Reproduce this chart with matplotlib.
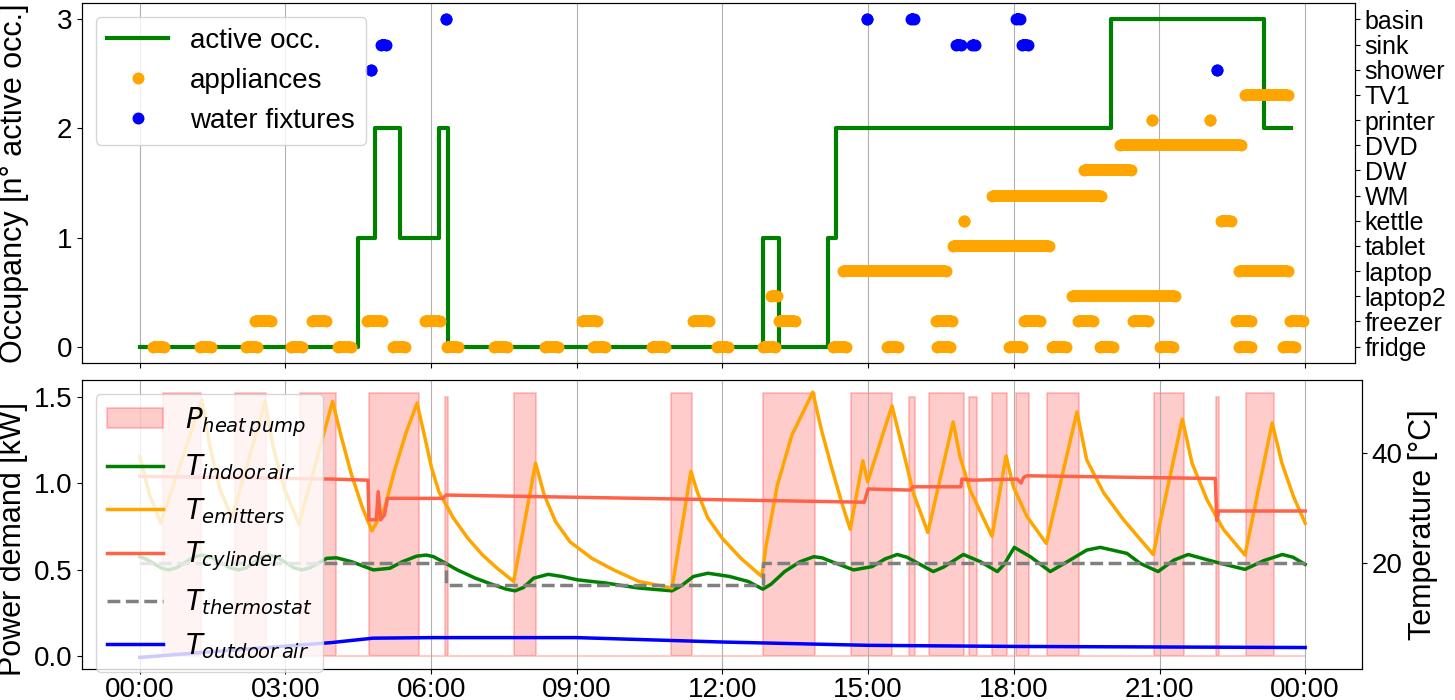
import matplotlib
matplotlib.use('Agg')
import matplotlib.pyplot as plt
from matplotlib.lines import Line2D

plt.rcParams['font.family'] = ['Liberation Sans', 'DejaVu Sans']
plt.rcParams['mathtext.fontset'] = 'dejavusans'

# ---- top panel data (hours of the day) ----
occ_t = [0.0, 4.49, 4.84, 5.36, 6.16, 6.34, 12.84, 13.17, 14.17, 14.34, 20.0, 23.16, 23.71]
occ_n = [0, 1, 2, 1, 2, 0, 1, 0, 1, 2, 3, 2, 2]

device_names = ['fridge', 'freezer', 'laptop2', 'laptop', 'tablet', 'kettle', 'WM', 'DW',
                'DVD', 'printer', 'TV1', 'shower', 'sink', 'basin']

fridge = [(0.27, 0.49), (1.24, 1.46), (2.18, 2.41), (3.11, 3.34), (4.08, 4.35), (5.21, 5.46),
          (6.32, 6.55), (7.29, 7.56), (8.34, 8.61), (9.33, 9.58), (10.55, 10.82), (11.89, 12.11),
          (12.83, 13.08), (14.28, 14.54), (15.39, 15.62), (16.42, 16.69), (17.90, 18.17),
          (18.79, 19.08), (19.78, 20.05), (21.01, 21.28), (22.64, 22.89), (23.55, 23.79)]
freezer = [(2.37, 2.70), (3.54, 3.83), (4.68, 4.99), (5.87, 6.18), (9.11, 9.42), (11.39, 11.72),
           (13.17, 13.49), (16.40, 16.73), (18.21, 18.54), (19.32, 19.63), (20.46, 20.77),
           (22.58, 22.89), (23.69, 23.96)]
laptop2 = [(13.0, 13.12), (19.20, 21.32)]
laptop = [(14.48, 16.60), (22.64, 23.65)]
tablet = [(16.75, 18.73)]
kettle = [(16.98, 16.98), (22.28, 22.48)]
wm = [(17.55, 19.80)]
dw = [(19.45, 20.42)]
dvd = [(20.19, 22.68)]
printer = [(20.85, 20.85), (22.04, 22.04)]
tv1 = [(22.77, 23.65)]
shower = [(4.76, 4.76), (22.19, 22.19)]
sink = [(4.96, 5.07), (16.81, 16.91), (17.15, 17.20), (18.17, 18.29)]
basin = [(6.30, 6.30), (14.97, 14.97), (15.88, 15.95), (18.05, 18.13)]

appliances = [fridge, freezer, laptop2, laptop, tablet, kettle, wm, dw, dvd, printer, tv1]
fixtures = [shower, sink, basin]

# ---- bottom panel data ----
hp_on = [(0.47, 1.26), (1.96, 2.60), (3.30, 4.04), (4.72, 5.75), (6.28, 6.34), (7.71, 8.16),
         (10.94, 11.37), (12.83, 13.90), (14.65, 15.49), (15.84, 15.97), (16.25, 16.98),
         (17.08, 17.24), (17.55, 17.86), (18.05, 18.31), (18.69, 19.34), (20.89, 21.51),
         (22.17, 22.23), (22.79, 23.36)]
hp_kw = [1.52, 1.52, 1.52, 1.52, 1.50, 1.52, 1.52, 1.52, 1.52, 1.50, 1.52, 1.50, 1.52, 1.52,
         1.52, 1.52, 1.50, 1.52]

t_emit = [0.0, 0.2, 0.43, 1.28, 1.45, 1.65, 1.90, 2.58, 2.75, 2.98, 3.28, 3.97, 4.14, 4.36,
          4.59, 4.78, 5.04, 5.26, 5.49, 5.71, 5.86, 6.01, 6.16, 6.46, 6.76, 7.06, 7.36, 7.70,
          8.15, 8.33, 8.56, 8.86, 9.31, 9.76, 10.28, 10.96, 11.35, 11.48, 11.70, 12.00, 12.38,
          12.81, 12.90, 13.13, 13.43, 13.86, 14.03, 14.25, 14.47, 14.63, 14.89, 14.99, 15.49,
          15.70, 15.93, 16.23, 16.75, 16.89, 17.10, 17.55, 17.84, 17.99, 18.27, 18.67, 19.30,
          19.50, 19.85, 20.26, 20.87, 21.47, 21.67, 21.98, 22.32, 22.76, 23.32, 23.52, 23.76,
          24.0]
v_emit = [39.4, 32.5, 27.3, 49.7, 41.0, 33.5, 28.2, 49.4, 41.0, 33.5, 27.1, 49.4, 43.3, 36.1,
          30.0, 25.9, 30.0, 37.3, 43.9, 49.1, 43.3, 37.3, 33.0, 28.2, 24.5, 21.5, 19.1, 16.7,
          38.2, 32.4, 27.6, 23.9, 20.9, 18.8, 16.7, 15.5, 36.7, 33.0, 28.2, 24.5, 20.9,
          17.6, 23.3, 34.2, 43.3, 51.1, 44.5, 37.3, 30.6, 26.2, 38.6, 34.8, 48.6,
          41.2, 32.8, 25.6, 45.7, 39.4, 33.3, 24.9, 39.5, 33.9, 28.5, 23.6, 47.5,
          38.8, 32.8, 27.9, 21.6, 46.2, 38.2, 31.5, 26.1, 21.5, 45.5, 38.2, 32.1,
          27.3]

t_indoor = [0.0, 0.15, 0.45, 0.59, 0.76, 1.10, 1.28, 1.47, 1.85, 2.04, 2.20, 2.50, 2.66, 2.83,
            3.17, 3.34, 3.51, 3.85, 4.05, 4.36, 4.81, 5.15, 5.41, 5.70, 5.90, 6.05, 6.24, 6.54,
            6.91, 7.28, 7.55, 7.73, 7.90, 8.11, 8.41, 8.70, 9.01, 9.61, 10.28, 10.96, 11.15,
            11.40, 11.70, 12.15, 12.53, 12.83, 13.00, 13.28, 13.60, 13.88, 14.05, 14.25, 14.70,
            15.08, 15.35, 15.60, 15.80, 16.34, 16.55, 16.96, 17.31, 17.66, 17.80, 18.01, 18.34,
            18.75, 19.16, 19.50, 19.78, 20.33, 20.60, 20.97, 21.30, 21.59, 22.25, 22.76, 23.15,
            23.53, 23.75, 24.0]
v_indoor = [21.2, 20.7, 19.1, 18.8, 19.2, 21.1, 21.5, 21.1, 19.2, 18.8, 19.2, 21.1, 21.5, 21.1,
            19.2, 18.8, 19.2, 20.9, 21.0, 20.3, 18.8, 19.1, 20.3, 21.3, 21.5, 21.2, 20.3, 18.8,
            17.3, 16.1, 15.3, 15.0, 15.6, 17.3, 18.0, 17.6, 17.0, 16.4, 15.5, 15.0, 15.9,
            17.6, 18.2, 17.6, 16.7, 15.3, 16.2, 18.5, 20.3, 21.2, 21.0, 20.3, 18.8,
            19.4, 20.8, 21.6, 21.1, 18.5, 19.3, 21.6, 20.3, 18.5, 19.8, 22.9, 21.2,
            18.5, 20.6, 22.4, 22.9, 21.8, 20.0, 18.5, 20.6, 21.6, 20.0, 18.9, 20.5,
            21.6, 21.1, 19.8]

t_cyl = [0.0, 3.98, 4.70, 4.72, 4.87, 4.91, 4.96, 5.04, 5.10, 6.24, 6.31, 14.92, 15.0, 15.86,
         15.93, 16.91, 16.93, 17.16, 18.07, 18.15, 18.20, 18.27, 22.15, 22.18, 22.22, 24.0]
v_cyl = [35.8, 35.3, 35.1, 27.9, 27.9, 33.0, 27.9, 28.8, 31.8, 31.8, 32.4, 31.1, 33.5, 33.3,
         33.9, 33.9, 35.3, 35.1, 35.3, 34.6, 35.6, 35.9, 35.4, 27.8, 29.5, 29.5]

t_thermo = [0.0, 6.31, 12.83, 24.0]
v_thermo = [20.0, 16.0, 20.0, 20.0]

t_out = [0.0, 1.0, 2.0, 3.0, 3.95, 4.8, 6.0, 7.0, 9.0, 12.0, 15.0, 18.0, 21.0, 24.0]
v_out = [2.9, 3.6, 4.3, 4.95, 5.6, 6.4, 6.5, 6.5, 6.5, 5.7, 5.1, 4.9, 4.8, 4.7]

hour_ticks = [0, 3, 6, 9, 12, 15, 18, 21, 24]
hour_labels = ['00:00', '03:00', '06:00', '09:00', '12:00', '15:00', '18:00', '21:00', '00:00']

W, H = 1455, 700
fig = plt.figure(figsize=(W / 100, H / 100), dpi=100)

# ---------------- top panel ----------------
ax1 = fig.add_axes([82 / W, 1 - 363 / H, 1273 / W, 360 / H])
ax1.plot(occ_t, occ_n, drawstyle='steps-post', color='green', lw=3, label='active occ.')
ax1.set_xlim(-1.19, 25.03)
ax1.set_ylim(-0.15, 3.15)
ax1.set_yticks([0, 1, 2, 3])
ax1.set_xticks(hour_ticks)
ax1.tick_params(labelbottom=False, labelsize=20)
ax1.grid(axis='x', color='#b0b0b0', lw=0.8)
ax1.set_ylabel('Occupancy [n° active occ.]', fontsize=22)
ax1.yaxis.set_label_coords(-0.042, 0.5)

ax1b = ax1.twinx()
dot = 8.6
for row, intervals in enumerate(appliances):
    for s, e in intervals:
        ax1b.plot([s, e], [row, row], color='orange', lw=dot, solid_capstyle='butt',
                  marker='o', ms=dot, mew=0)
for k, intervals in enumerate(fixtures):
    row = len(appliances) + k
    for s, e in intervals:
        ax1b.plot([s, e], [row, row], color='blue', lw=dot, solid_capstyle='butt',
                  marker='o', ms=dot, mew=0)
ax1b.set_ylim(-0.65, 13.65)
ax1b.set_yticks(range(len(device_names)))
ax1b.set_yticklabels(device_names, fontsize=18)

handles = [Line2D([], [], color='green', lw=3),
           Line2D([], [], color='orange', marker='o', ms=dot, ls='none', mew=0),
           Line2D([], [], color='blue', marker='o', ms=dot, ls='none', mew=0)]
ax1b.legend(handles, ['active occ.', 'appliances', 'water fixtures'], loc='upper left',
            fontsize=20, handlelength=2.2)

# ---------------- bottom panel ----------------
ax2 = fig.add_axes([82 / W, 1 - 669 / H, 1280 / W, 289 / H])
hp_t = [0.0]
hp_p = [0.0]
for (s, e), kw in zip(hp_on, hp_kw):
    hp_t += [s, e]
    hp_p += [kw, 0.0]
hp_t.append(24.0)
hp_p.append(0.0)
hp = ax2.fill_between(hp_t, hp_p, step='post', color='red', alpha=0.2, lw=1.5,
                      label=r'$P_{heat\,pump}$')
ax2.set_xlim(-1.19, 25.17)
ax2.set_ylim(-0.075, 1.598)
ax2.set_yticks([0.0, 0.5, 1.0, 1.5])
ax2.set_xticks(hour_ticks)
ax2.set_xticklabels(hour_labels)
ax2.tick_params(labelsize=20)
ax2.tick_params(axis='x', pad=2)
ax2.grid(axis='x', color='#b0b0b0', lw=0.8)
ax2.set_ylabel('Power demand [kW]', fontsize=22)
ax2.yaxis.set_label_coords(-0.042, 0.45)

ax2b = ax2.twinx()
l1, = ax2b.plot(t_indoor, v_indoor, color='green', lw=2.5, label=r'$T_{indoor\,air}$')
l2, = ax2b.plot(t_emit, v_emit, color='orange', lw=2.5, label=r'$T_{emitters}$')
l3, = ax2b.plot(t_cyl, v_cyl, color='tomato', lw=2.5, label=r'$T_{cylinder}$')
l4, = ax2b.plot(t_thermo, v_thermo, color='gray', lw=2.5, ls='--', drawstyle='steps-post',
                label=r'$T_{thermostat}$')
l5, = ax2b.plot(t_out, v_out, color='blue', lw=2.5, label=r'$T_{outdoor\,air}$')
ax2b.set_ylim(0.8, 53.3)
ax2b.set_yticks([20, 40])
ax2b.tick_params(labelsize=20)
ax2b.set_ylabel('Temperature [°C]', fontsize=22)

ax2b.legend([hp, l1, l2, l3, l4, l5], [h.get_label() for h in [hp, l1, l2, l3, l4, l5]],
            loc='upper left', fontsize=20)

fig.savefig('out.png', dpi=100)
